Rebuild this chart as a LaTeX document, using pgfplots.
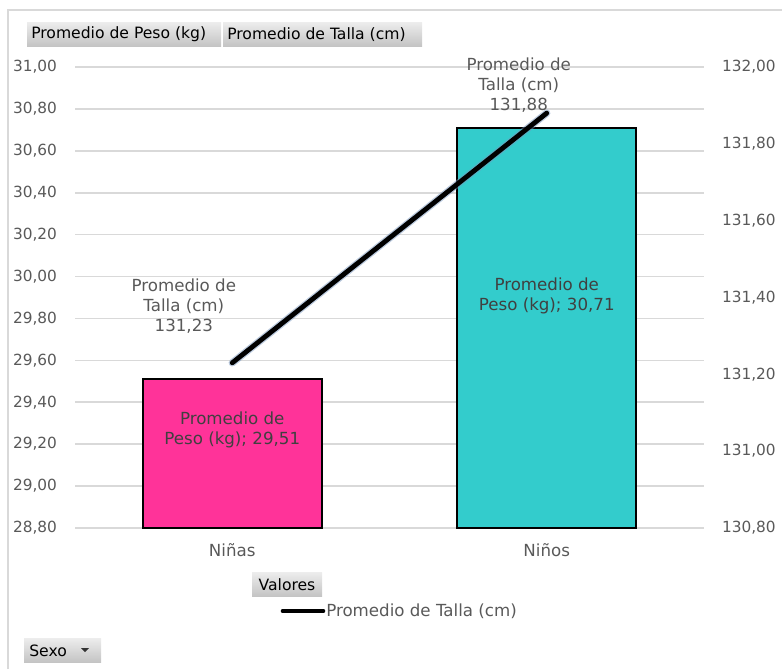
\documentclass[border=0pt]{standalone}
\usepackage{pgfplots}
\pgfplotsset{compat=1.18}
\usepackage{fontspec}
\setmainfont{DejaVu Sans}
\definecolor{txt}{HTML}{595959}
\definecolor{lbl}{HTML}{404040}
\definecolor{gridc}{HTML}{D9D9D9}
\definecolor{pinkbar}{HTML}{FF3399}
\definecolor{tealbar}{HTML}{33CCCC}
\definecolor{btnt}{HTML}{EDEDED}
\definecolor{btnb}{HTML}{C4C4C4}
\newcommand{\fs}{\fontsize{11.5}{15}\selectfont}
\newcommand{\fl}{\fontsize{12.5}{15}\selectfont}
\begin{document}
\begin{tikzpicture}
\path[use as bounding box] (0,0) rectangle (586.5pt,-501.75pt);
\begin{scope}[x=0.75pt,y=-0.75pt]
\draw[gridc, line width=1.2pt] (8,669) -- (8,10) -- (782,10);
% buttons
\shade[top color=btnt, bottom color=btnb] (27,22) rectangle (221,46);
\shade[top color=btnt, bottom color=btnb] (223,22) rectangle (422,46);
\node[anchor=west, inner sep=0pt, font=\fontsize{11.7}{13}\selectfont] at (31,34.5) {Promedio de Peso (kg)};
\node[anchor=west, inner sep=0pt, font=\fontsize{11.7}{13}\selectfont] at (227,34.5) {Promedio de Talla (cm)};
\shade[top color=btnt, bottom color=btnb] (252,572) rectangle (322,596);
\node[inner sep=0pt, font=\fontsize{11.7}{13}\selectfont] at (287,584.5) {Valores};
\shade[top color=btnt, bottom color=btnb] (24,638) rectangle (101,662);
\node[anchor=west, inner sep=0pt, font=\fontsize{11.7}{13}\selectfont] at (29,650.5) {Sexo};
\fill[black!80] (81,648) -- (89,648) -- (85,652) -- cycle;
% legend
\draw[black, line width=3.5pt, line cap=round] (283,611) -- (323,611);
\node[anchor=west, inner sep=0pt, text=txt, font=\fl] at (326,611) {Promedio de Talla (cm)};
\end{scope}

\begin{axis}[
  at={(56.25pt,-396pt)}, anchor=south west, scale only axis,
  width=471.75pt, height=345.75pt,
  xmin=-0.5, xmax=1.5, ymin=28.8, ymax=31,
  ytick={28.8,29.0,29.2,29.4,29.6,29.8,30.0,30.2,30.4,30.6,30.8,31.0},
  xtick={0,1}, xticklabels={Niñas,Niños},
  axis line style={draw=none}, major tick length=0pt,
  ymajorgrids, grid style={gridc, line width=1.2pt},
  /pgf/number format/.cd, fixed, fixed zerofill, precision=2, use comma, assume math mode=true,
  /pgfplots/.cd,
  yticklabel style={text=txt, font=\fs, xshift=-10pt},
  xticklabel style={text=txt, font=\fl, yshift=-8pt},
]
\addplot[ybar, bar shift=0pt, bar width=134.25pt, fill=pinkbar, draw=black, line width=1.6pt] coordinates {(0,29.51)};
\addplot[ybar, bar shift=0pt, bar width=134.25pt, fill=tealbar, draw=black, line width=1.6pt] coordinates {(1,30.71)};
\node[align=center, text=lbl, font=\fl] at (axis cs:0,29.27) {Promedio de\\Peso (kg); 29,51};
\node[align=center, text=lbl, font=\fl] at (axis cs:1,29.91) {Promedio de\\Peso (kg); 30,71};
\end{axis}

\begin{axis}[
  at={(56.25pt,-396pt)}, anchor=south west, scale only axis,
  width=471.75pt, height=345.75pt,
  xmin=-0.5, xmax=1.5, ymin=130.8, ymax=132,
  ytick={130.8,131.0,131.2,131.4,131.6,131.8,132.0},
  hide x axis, axis y line*=right,
  axis line style={draw=none}, major tick length=0pt,
  /pgf/number format/.cd, fixed, fixed zerofill, precision=2, use comma, assume math mode=true,
  /pgfplots/.cd,
  yticklabel style={text=txt, font=\fs, xshift=10pt},
  clip=false,
]
\addplot[color={rgb,255:red,120;green,150;blue,190}, opacity=0.5, line width=5.5pt, line cap=round] coordinates {(0,131.23) (1,131.88)};
\addplot[black, line width=3.6pt, line cap=round] coordinates {(0,131.23) (1,131.88)};
\node[align=center, text=txt, font=\fl] at (axis cs:-0.154,131.378) {Promedio de\\Talla (cm)\\131,23};
\node[align=center, text=txt, font=\fl] at (axis cs:0.911,131.954) {Promedio de\\Talla (cm)\\131,88};
\end{axis}
\end{tikzpicture}
\end{document}
